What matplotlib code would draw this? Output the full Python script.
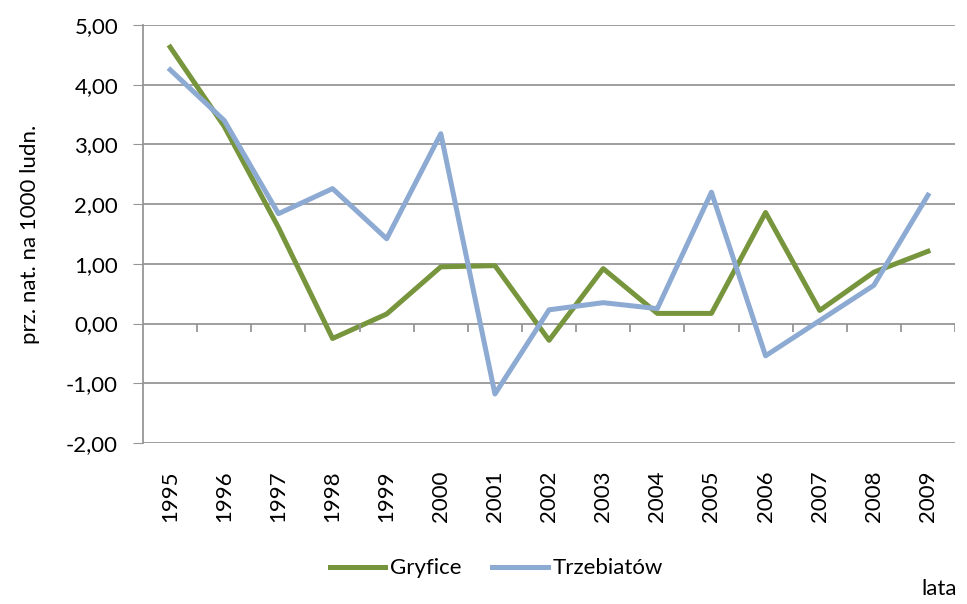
import numpy as np
import matplotlib
matplotlib.use("Agg")
import matplotlib.pyplot as plt
from matplotlib.ticker import FuncFormatter

plt.rcParams['font.family'] = ['Lato', 'DejaVu Sans']

lata = ['1995', '1996', '1997', '1998', '1999', '2000', '2001', '2002',
        '2003', '2004', '2005', '2006', '2007', '2008', '2009']
gryfice = [4.63, 3.30, 1.61, -0.25, 0.16, 0.95, 0.97, -0.28,
           0.92, 0.17, 0.17, 1.86, 0.22, 0.86, 1.21]
trzebiatow = [4.25, 3.40, 1.84, 2.26, 1.42, 3.18, -1.18, 0.23,
              0.35, 0.25, 2.20, -0.54, 0.05, 0.64, 2.15]

fs = 16
fig = plt.figure(figsize=(9.67, 6.04), dpi=100)
ax = fig.add_axes([0.148, 0.2666, 0.8396, 0.692])

x = np.arange(len(lata))
ax.plot(x, gryfice, color='#77953C', lw=3.6, label='Gryfice')
ax.plot(x, trzebiatow, color='#8DAAD3', lw=3.6, label='Trzebiatów')

ax.set_xlim(-0.5, len(lata) - 0.5)
ax.set_ylim(-2, 5)
ax.set_yticks(np.arange(-2, 6, 1))
ax.yaxis.set_major_formatter(FuncFormatter(lambda v, p: ('%.2f' % v).replace('.', ',')))
ax.grid(axis='y', color='#969696', lw=1.3)
ax.set_axisbelow(True)

for s in ['top', 'right', 'bottom']:
    ax.spines[s].set_visible(False)
ax.spines['left'].set_color('#969696')
ax.spines['left'].set_linewidth(1.3)

# os kategorii na poziomie zera z kreskami miedzy latami
ax.vlines(np.arange(0.5, len(lata)), -0.14, 0, color='#969696', lw=1.3)

ax.set_xticks(x)
ax.set_xticklabels(lata, rotation=90, fontsize=fs)
ax.tick_params(axis='x', length=0, pad=20)
ax.tick_params(axis='y', length=7, color='#969696', labelsize=fs, pad=11)

ax.set_ylabel('prz. nat. na 1000 ludn.', fontsize=fs, labelpad=19)

leg = ax.legend(loc='center', bbox_to_anchor=(0.435, -0.30), ncol=2,
                frameon=False, fontsize=fs, handlelength=2.5, columnspacing=1.4,
                handletextpad=0.2)
fig.text(0.953, 0.008, 'lata', fontsize=fs, ha='left', va='bottom')

fig.savefig('out.png', dpi=100)
